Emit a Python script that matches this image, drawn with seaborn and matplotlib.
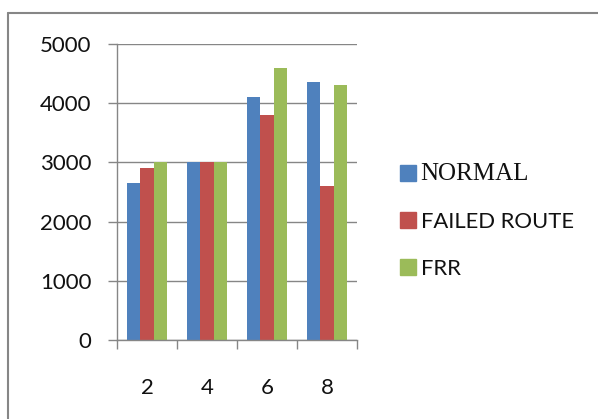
import matplotlib
matplotlib.use("Agg")
import matplotlib.pyplot as plt
import seaborn as sns
import pandas as pd
from matplotlib.lines import Line2D

# Data
nodes = ["2", "4", "6", "8"]
series_names = ["NORMAL", "FAILED ROUTE", "FRR"]
normal = [2650, 3000, 4110, 4350]
failed_route = [2900, 3000, 3800, 2600]
frr = [3000, 3000, 4600, 4300]
y_ticks = [0, 1000, 2000, 3000, 4000, 5000]

colors = ["#4F81BD", "#C0504D", "#9BBB59"]
grid_gray = "#868686"

df = pd.DataFrame({
    "node": nodes * 3,
    "value": normal + failed_route + frr,
    "series": [s for s in series_names for _ in nodes],
})

sns.set_theme(style="white")
plt.rcParams["font.family"] = ["Lato", "DejaVu Sans"]

fig = plt.figure(figsize=(5.98, 4.19), dpi=100)
ax = fig.add_axes([117 / 598, 1 - 340 / 419, 240 / 598, 296 / 419])

sns.barplot(data=df, x="node", y="value", hue="series", order=nodes,
            hue_order=series_names, palette=colors, width=0.667,
            saturation=1, ax=ax, legend=False, edgecolor="none", linewidth=0)

ax.set_xlim(-0.5, len(nodes) - 0.5)
ax.set_ylim(0, 5000)
ax.set_yticks(y_ticks)
ax.set_yticklabels([str(v) for v in y_ticks])
ax.set_xlabel("")
ax.set_ylabel("")

# horizontal gridlines behind the bars
ax.set_axisbelow(True)
ax.yaxis.grid(True, color=grid_gray, linewidth=1.0)
ax.xaxis.grid(False)

for side in ["top", "right"]:
    ax.spines[side].set_visible(False)
for side in ["left", "bottom"]:
    ax.spines[side].set_color(grid_gray)
    ax.spines[side].set_linewidth(1.0)

# y ticks stick out to the left; x ticks mark category boundaries
ax.tick_params(axis="y", left=True, length=6.5, width=1.0, color=grid_gray,
               labelsize=16, labelcolor="#111111", pad=12)
ax.set_xticks([i - 0.5 for i in range(len(nodes) + 1)], minor=True)
ax.tick_params(axis="x", which="minor", bottom=True, length=6.5, width=1.0,
               color=grid_gray)
ax.tick_params(axis="x", which="major", bottom=False, length=0,
               labelsize=16, labelcolor="#111111", pad=27)

# legend
handles = [Line2D([0], [0], marker="s", linestyle="none", markersize=11,
                  markerfacecolor=c, markeredgecolor=c) for c in colors]
leg = fig.legend(handles, series_names, loc="center left",
                 bbox_to_anchor=(379 / 598, 1 - 221 / 419), frameon=False,
                 handlelength=0.85, handletextpad=0.15, labelspacing=1.22,
                 fontsize=15.8)
texts = leg.get_texts()
texts[0].set_fontfamily(["Liberation Serif"])
texts[0].set_fontsize(18)
for t in texts:
    t.set_color("#111111")

# chart frame (top and left edges)
fig.add_artist(Line2D([8 / 598, 1.0], [1 - 13 / 419, 1 - 13 / 419],
                      transform=fig.transFigure, color=grid_gray, linewidth=1.5))
fig.add_artist(Line2D([8 / 598, 8 / 598], [0.0, 1 - 13 / 419],
                      transform=fig.transFigure, color=grid_gray, linewidth=1.5))

fig.savefig("out.png", dpi=100)
